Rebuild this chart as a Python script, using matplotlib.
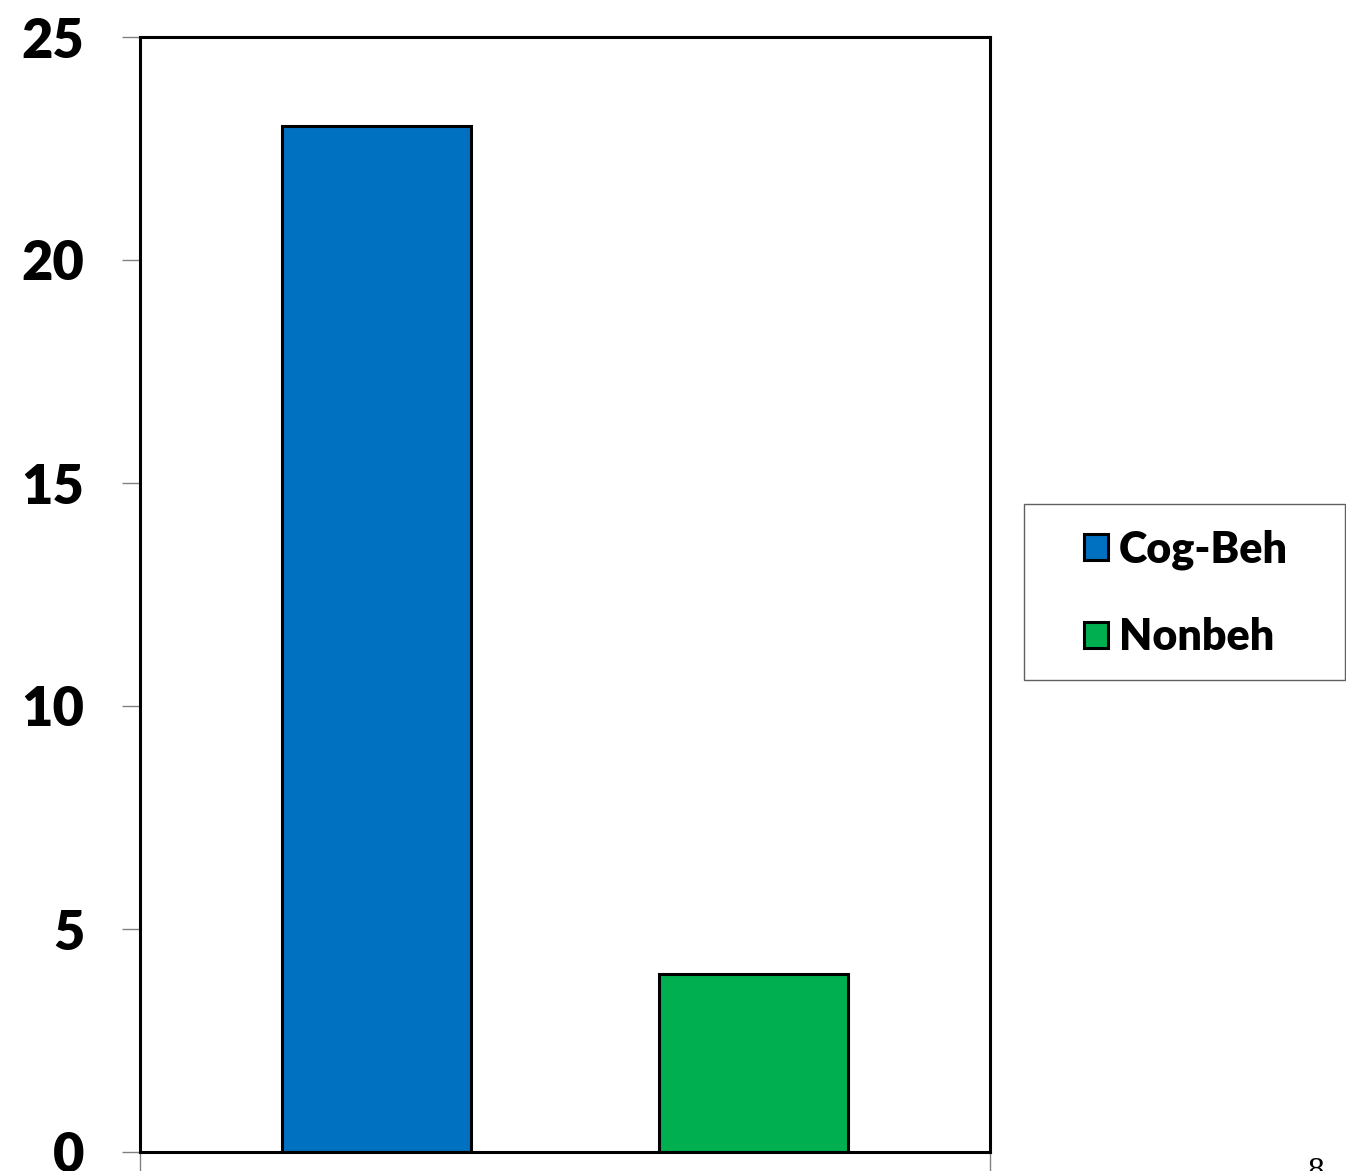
import matplotlib.pyplot as plt
from matplotlib.patches import Rectangle

# data
series = ["Cog-Beh", "Nonbeh"]
values = [23, 4]
colors = ["#0070C0", "#00B050"]
y_ticks = [0, 5, 10, 15, 20, 25]

W, H = 1346, 1171
fig = plt.figure(figsize=(W / 100, H / 100), dpi=100)
ax = fig.add_axes([140 / W, 1 - 1152 / H, 850 / W, 1115 / H])

for i, (name, val, col) in enumerate(zip(series, values, colors)):
    ax.bar(i, val, width=0.5, color=col, edgecolor="black", linewidth=2.2, label=name, zorder=3)

ax.set_xlim(-0.625, 1.625)
ax.set_ylim(0, 25)

for sp in ax.spines.values():
    sp.set_linewidth(2.2)
    sp.set_color("black")
    sp.set_zorder(4)

ax.set_yticks(y_ticks)
ax.set_yticklabels([str(t) for t in y_ticks], fontsize=39, fontweight="heavy", family="Lato")
ax.tick_params(axis="y", direction="out", length=13, width=1, color="#808080", pad=27)
ax.set_xticks([-0.625, 1.625])
ax.set_xticklabels(["", ""])
ax.tick_params(axis="x", direction="out", length=14, width=1, color="#808080")

# legend box drawn separately so its size matches the reference
fig.patches.append(Rectangle((1024 / W, 1 - 680 / H), 321 / W, 176 / H, transform=fig.transFigure,
                             facecolor="white", edgecolor="#606060", linewidth=1))
leg = fig.legend(loc="center", bbox_to_anchor=(1186 / W, 1 - 593 / H), frameon=False,
                 prop={"family": "Lato", "weight": "heavy", "size": 31},
                 handlelength=0.55, handleheight=0.55, handletextpad=0.25, labelspacing=1.1)

# page number cut off at the bottom edge
fig.text(1316 / W, 1 - 1156 / H, "8", family="Liberation Serif", fontsize=24, ha="center", va="top")

fig.savefig("out.png", dpi=100)
